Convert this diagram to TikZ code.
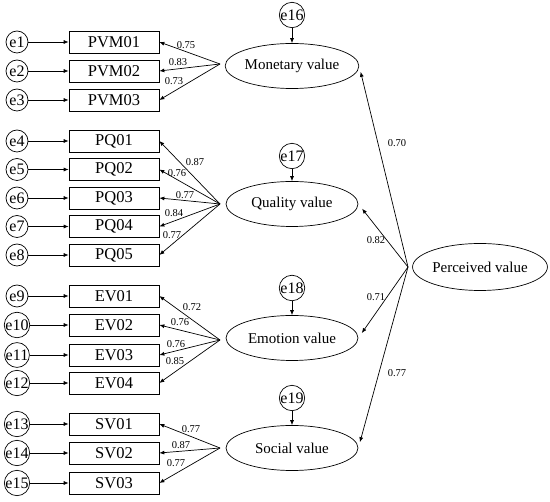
\documentclass[tikz,border=0pt]{standalone}
\usepackage{fontspec}
\setmainfont{Liberation Serif}
\usetikzlibrary{arrows.meta,shapes.geometric}
\tikzset{
	errc/.style={draw, circle, minimum size=22pt, inner sep=0pt, font=\fontsize{16}{16}\selectfont},
	errl/.style={errc, minimum size=21pt},
	obsbox/.style={draw, rectangle, minimum width=90pt, minimum height=22pt, inner sep=0pt, font=\fontsize{16.5}{16.5}\selectfont},
	latent/.style={draw, ellipse, minimum width=132pt, minimum height=45pt, inner sep=0pt, font=\fontsize{15}{15}\selectfont},
	wt/.style={font=\fontsize{10.5}{10.5}\selectfont, inner sep=0pt},
	arr/.style={-{Latex[length=5pt,width=4pt]}, line width=0.7pt}
}
\def\obsvar(#1,#2,#3,#4){\node[errc] (e#1) at (17,#2) {e#1};
	\node[obsbox] (#3) at (114,#2) {#4};
	\draw[arr] (e#1) -- (#3);}

\begin{document}
\begin{tikzpicture}[x=1pt,y=-1pt, line width=0.7pt]
			%%%%% START %%%%%
			\useasboundingbox (0,0) rectangle (550,502);
			
			\obsvar(1,42,pvm1,PVM01)
			\obsvar(2,71,pvm2,PVM02)
			\obsvar(3,100,pvm3,PVM03)
			
			\obsvar(4,141,pq1,PQ01)
			\obsvar(5,169.5,pq2,PQ02)
			\obsvar(6,198,pq3,PQ03)
			\obsvar(7,226.5,pq4,PQ04)
			\obsvar(8,255,pq5,PQ05)
			
			\obsvar(9,296,ev1,EV01)
			\obsvar(10,325,ev2,EV02)
			\obsvar(11,355,ev3,EV03)
			\obsvar(12,383,ev4,EV04)
			
			\obsvar(13,424,sv1,SV01)
			\obsvar(14,453,sv2,SV02)
			\obsvar(15,483,sv3,SV03)
			
			\node[latent] (mv) at (292,66) {Monetary value};
			\node[latent] (qv) at (292,204) {Quality value};
			\node[latent] (ev) at (292,338) {Emotion value};
			\node[latent] (sv) at (292,448) {Social value};
			\node[latent, minimum width=134pt, minimum height=47pt] (pv) at (480,267) {Perceived value};
			
			\node[errl] (e16) at (292,15) {e16};
			\node[errl] (e17) at (292,156) {e17};
			\node[errl] (e18) at (292,288) {e18};
			\node[errl] (e19) at (292,398) {e19};
			\draw[arr] (e16) -- (mv);
			\draw[arr] (e17) -- (qv);
			\draw[arr] (e18) -- (ev);
			\draw[arr] (e19) -- (sv);
			
			\coordinate (mvs) at (220,64);
			\coordinate (qvs) at (220,204);
			\coordinate (evs) at (220,340);
			\coordinate (svs) at (220,448);
			\coordinate (pvs) at (408,267);
			
			\draw[arr] (mvs) -- (pvm1.east);
			\draw[arr] (mvs) -- (pvm2.east);
			\draw[arr] (mvs) -- (pvm3.east);
			\node[wt] at (186,45) {0.75};
			\node[wt] at (178,62) {0.83};
			\node[wt] at (174,81) {0.73};
			
			\draw[arr] (qvs) -- (pq1.east);
			\draw[arr] (qvs) -- (pq2.east);
			\draw[arr] (qvs) -- (pq3.east);
			\draw[arr] (qvs) -- (pq4.east);
			\draw[arr] (qvs) -- (pq5.east);
			\node[wt] at (195,162) {0.87};
			\node[wt] at (177,173) {0.76};
			\node[wt] at (185,195) {0.77};
			\node[wt] at (174,213) {0.84};
			\node[wt] at (172,235) {0.77};
			
			\draw[arr] (evs) -- (ev1.east);
			\draw[arr] (evs) -- (ev2.east);
			\draw[arr] (evs) -- (ev3.east);
			\draw[arr] (evs) -- (ev4.east);
			\node[wt] at (192,307) {0.72};
			\node[wt] at (180,322) {0.76};
			\node[wt] at (176,344) {0.76};
			\node[wt] at (175,361) {0.85};
			
			\draw[arr] (svs) -- (sv1.east);
			\draw[arr] (svs) -- (sv2.east);
			\draw[arr] (svs) -- (sv3.east);
			\node[wt] at (191,429) {0.77};
			\node[wt] at (181,445) {0.87};
			\node[wt] at (176,463) {0.77};
			
			\draw[arr, shorten >=6pt] (pvs) -- (mv.east);
			\draw[arr, shorten >=6pt] (pvs) -- (qv.east);
			\draw[arr, shorten >=6pt] (pvs) -- (ev.east);
			\draw[arr, shorten >=6pt] (pvs) -- (sv.east);
			\node[wt] at (397,143) {0.70};
			\node[wt] at (376,240) {0.82};
			\node[wt] at (376,297) {0.71};
			\node[wt] at (397,373) {0.77};
			
			%%%%% END %%%%%
\end{tikzpicture}
\end{document}
